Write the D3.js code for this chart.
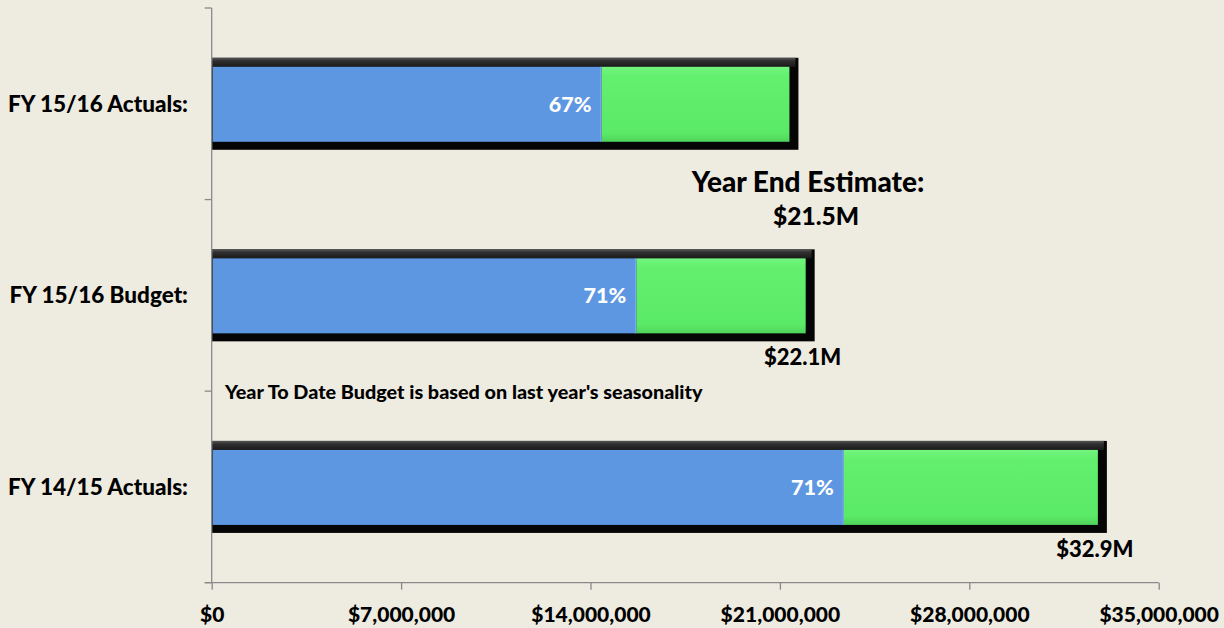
<!DOCTYPE html>
<html>
<head>
<meta charset="utf-8">
<script src="https://cdn.jsdelivr.net/npm/d3@7"></script>
<style>
  html, body { margin: 0; padding: 0; background: #EEEBE1; }
  svg { display: block; font-family: Lato, "Open Sans", sans-serif; font-weight: 900; }
</style>
</head>
<body>
<svg id="chart" width="1224" height="628"></svg>
<script>
// Year-to-date revenue vs. full-year totals
const categories = ["FY 15/16 Actuals:", "FY 15/16 Budget:", "FY 14/15 Actuals:"];
const totals     = [21.5e6, 22.1e6, 32.9e6];   // full-year amount (outer bar)
const ytdPercent = [67, 71, 71];               // share reached year to date
const totalLabels = [null, "$22.1M", "$32.9M"];
const xTicks = [0, 7e6, 14e6, 21e6, 28e6, 35e6];
const estimateTitle = "Year End Estimate:";
const estimateValue = "$21.5M";
const note = "Year To Date Budget is based on last year's seasonality";

const svg = d3.select("#chart");

const x = d3.scaleLinear().domain([0, 35e6]).range([211.7, 1158.7]);
const y = d3.scaleBand().domain(categories).range([8, 582.7]).padding(0);
const bw = y.bandwidth();

const defs = svg.append("defs");
const gGreen = defs.append("linearGradient").attr("id", "gGreen").attr("x1", 0).attr("y1", 0).attr("x2", 0).attr("y2", 1);
gGreen.append("stop").attr("offset", "0%").attr("stop-color", "#74F57F");
gGreen.append("stop").attr("offset", "12%").attr("stop-color", "#62F06E");
gGreen.append("stop").attr("offset", "88%").attr("stop-color", "#5BEA67");
gGreen.append("stop").attr("offset", "100%").attr("stop-color", "#4FD35B");
const gTop = defs.append("linearGradient").attr("id", "gTop").attr("x1", 0).attr("y1", 0).attr("x2", 0).attr("y2", 1);
gTop.append("stop").attr("offset", "0%").attr("stop-color", "#555");
gTop.append("stop").attr("offset", "35%").attr("stop-color", "#2f2f2f");
gTop.append("stop").attr("offset", "100%").attr("stop-color", "#1a1a1a");

const rows = categories.map((c, i) => ({
  cat: c,
  total: totals[i],
  pct: ytdPercent[i],
  ytd: totals[i] * ytdPercent[i] / 100,
  label: totalLabels[i],
  cy: y(c) + bw / 2
}));

// Bars: dark frame, blue year-to-date segment, green remainder
const bars = svg.append("g").selectAll("g").data(rows).join("g");
bars.append("rect")
  .attr("x", x(0)).attr("y", d => d.cy - 46)
  .attr("width", d => x(d.total) + 5 - x(0)).attr("height", 92)
  .attr("fill", "#050505");
bars.append("rect")
  .attr("x", x(0)).attr("y", d => d.cy - 46)
  .attr("width", d => x(d.total) + 2 - x(0)).attr("height", 9)
  .attr("fill", "url(#gTop)");
bars.append("rect")
  .attr("x", d => x(d.ytd)).attr("y", d => d.cy - 37)
  .attr("width", d => x(d.total) - 4 - x(d.ytd)).attr("height", 75)
  .attr("fill", "url(#gGreen)");
bars.append("rect")
  .attr("x", x(0) + 1).attr("y", d => d.cy - 37)
  .attr("width", d => x(d.ytd) - x(0) - 1).attr("height", 75)
  .attr("fill", "#5E97E1");
bars.append("line")
  .attr("x1", d => x(d.ytd) - 0.5).attr("x2", d => x(d.ytd) - 0.5)
  .attr("y1", d => d.cy - 37).attr("y2", d => d.cy + 38)
  .attr("stroke", "#86B2EA").attr("stroke-width", 1);

// Percent labels inside the blue segment
bars.append("text")
  .attr("x", d => x(d.ytd) - 10).attr("y", d => d.cy + 8)
  .attr("text-anchor", "end").attr("fill", "#fff")
  .attr("font-size", 21.5)
  .text(d => d.pct + "%");

// Full-year value labels under the bars
bars.filter(d => d.label).append("text")
  .attr("x", d => x(d.total) - 7).attr("y", d => d.cy + 46 + 24)
  .attr("text-anchor", "middle").attr("fill", "#000")
  .attr("font-size", 22)
  .text(d => d.label);

// Y axis: line, ticks at band boundaries, category labels
const yAxis = svg.append("g");
yAxis.append("line")
  .attr("x1", x(0)).attr("x2", x(0)).attr("y1", 8).attr("y2", 582.7)
  .attr("stroke", "#8a8a8a").attr("stroke-width", 1.3);
const bounds = categories.map(c => y(c)).concat([y.range()[1]]);
yAxis.selectAll(".tk").data(bounds).join("line")
  .attr("x1", x(0) - 7).attr("x2", x(0)).attr("y1", d => d).attr("y2", d => d)
  .attr("stroke", "#8a8a8a").attr("stroke-width", 1.3);
yAxis.selectAll("text").data(rows).join("text")
  .attr("x", 188).attr("y", d => d.cy + 8)
  .attr("text-anchor", "end").attr("font-size", 22.5).attr("fill", "#000")
  .text(d => d.cat);

// X axis
const xAxis = svg.append("g").attr("transform", "translate(0,582.7)")
  .call(d3.axisBottom(x).tickValues(xTicks).tickSize(7)
    .tickFormat(d => "$" + d3.format(",")(d)));
xAxis.select(".domain").remove();
xAxis.append("line").attr("x1", x(0) - 7).attr("x2", x(35e6))
  .attr("stroke", "#8a8a8a").attr("stroke-width", 1.3);
xAxis.selectAll(".tick line").attr("stroke", "#8a8a8a").attr("stroke-width", 1.3);
xAxis.selectAll(".tick text")
  .attr("y", 39.3).attr("dy", 0)
  .attr("font-size", 21).attr("font-family", "Lato, sans-serif")
  .attr("font-weight", 900).attr("fill", "#000");

// Annotations
svg.append("text").attr("x", 808).attr("y", 192)
  .attr("text-anchor", "middle").attr("font-size", 28).attr("fill", "#000")
  .text(estimateTitle);
svg.append("text").attr("x", 816).attr("y", 225)
  .attr("text-anchor", "middle").attr("font-size", 24.5).attr("fill", "#000")
  .text(estimateValue);
svg.append("text").attr("x", 225).attr("y", 399)
  .attr("font-size", 19.8).attr("fill", "#000")
  .text(note);
</script>
</body>
</html>
